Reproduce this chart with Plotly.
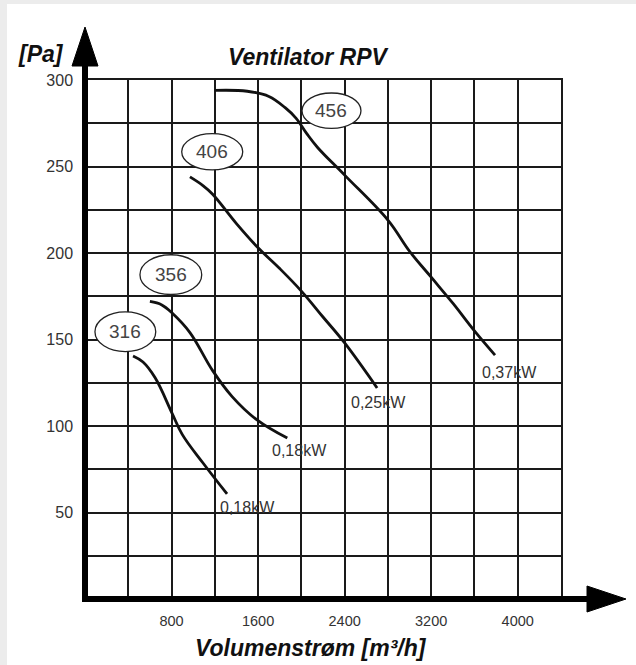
import plotly.graph_objects as go

# ---------------- data ----------------
x_tickvals = [0, 400, 800, 1200, 1600, 2000, 2400, 2800, 3200, 3600, 4000, 4400]
x_ticktext = ["", "", "800", "", "1600", "", "2400", "", "3200", "", "4000", ""]
y_tickvals = [0, 25, 50, 75, 100, 125, 150, 175, 200, 225, 250, 275, 300]
y_ticktext = ["", "", "50", "", "100", "", "150", "", "200", "", "250", "", "300"]

fan_models = ["316", "356", "406", "456"]
power_labels = ["0,18kW", "0,18kW", "0,25kW", "0,37kW"]

flow_316 = [444, 536, 647, 804, 900, 1091, 1313]
pressure_316 = [140.5, 137, 128, 107.5, 95, 78.6, 60.7]

flow_356 = [600, 710, 810, 970, 1180, 1360, 1590, 1870]
pressure_356 = [172, 170, 165, 154, 132, 117, 103.5, 93]

flow_406 = [970, 1090, 1180, 1400, 1600, 1800, 2000, 2200, 2400, 2700]
pressure_406 = [244, 239, 234, 217, 203, 191, 178, 163, 148, 122]

flow_456 = [1200, 1500, 1700, 1850, 1950, 2050, 2150, 2400, 2800, 3000, 3200, 3400, 3600, 3790]
pressure_456 = [294, 293.5, 290.5, 284, 278, 269, 261, 245, 219, 201, 186, 171, 155, 141]

curves = [(flow_316, pressure_316), (flow_356, pressure_356),
          (flow_406, pressure_406), (flow_456, pressure_456)]

# ---------------- layout helpers (positions / styles) ----------------
# ellipse label boxes in data units: (x0, x1, y0, y1)
ellipse_boxes = [(92, 654, 143, 166), (508, 1079, 176, 199),
                 (894, 1458, 248, 269), (2006, 2551, 272, 292.5)]
# pixel offsets of the power labels from each curve end
power_shift = [(-9, -14), (-17, -12), (-28, -15), (-15, -17)]

FONT = "Liberation Sans, Arial, sans-serif"
W, H = 636, 665
L, R, T, B = 85, 75, 80, 66
PW, PH = W - L - R, H - T - B


def px_x(p):
    return (p - L) / PW


def px_y(p):
    return (H - B - p) / PH


fig = go.Figure()

for (fx, fy) in curves:
    fig.add_trace(go.Scatter(
        x=fx, y=fy, mode="lines",
        line=dict(color="#111111", width=2.8, shape="spline", smoothing=1.1),
        showlegend=False, hoverinfo="skip"))

shapes = []
annotations = []

# gray frame + white page
shapes.append(dict(type="rect", xref="paper", yref="paper", layer="below",
                   x0=px_x(7), x1=px_x(640), y0=px_y(670), y1=px_y(4),
                   fillcolor="white", line=dict(width=0)))

# thick axes with arrows
shapes.append(dict(type="line", xref="paper", yref="paper",
                   x0=px_x(85), x1=px_x(85), y0=px_y(602), y1=px_y(62),
                   line=dict(color="black", width=6)))
shapes.append(dict(type="path", xref="paper", yref="paper",
                   path=f"M {px_x(72)},{px_y(66)} L {px_x(85)},{px_y(27)} L {px_x(98)},{px_y(66)} Z",
                   fillcolor="black", line=dict(color="black", width=1)))
shapes.append(dict(type="line", xref="paper", yref="paper",
                   x0=px_x(82), x1=px_x(590), y0=px_y(599), y1=px_y(599),
                   line=dict(color="black", width=6)))
shapes.append(dict(type="path", xref="paper", yref="paper",
                   path=f"M {px_x(587)},{px_y(586)} L {px_x(626)},{px_y(599)} L {px_x(587)},{px_y(612)} Z",
                   fillcolor="black", line=dict(color="black", width=1)))

for model, (x0, x1, y0, y1) in zip(fan_models, ellipse_boxes):
    shapes.append(dict(type="circle", xref="x", yref="y", layer="above",
                       x0=x0, x1=x1, y0=y0, y1=y1,
                       fillcolor="white", line=dict(color="#222222", width=1.3)))
    annotations.append(dict(x=(x0 + x1) / 2, y=(y0 + y1) / 2, xref="x", yref="y",
                            text=model, showarrow=False,
                            font=dict(family=FONT, size=19, color="#444444")))

for (fx, fy), lab, (dx, dy) in zip(curves, power_labels, power_shift):
    annotations.append(dict(x=fx[-1], y=fy[-1], xref="x", yref="y",
                            text=lab, showarrow=False, xanchor="left", yanchor="middle",
                            xshift=dx, yshift=dy,
                            font=dict(family=FONT, size=16, color="#333333")))

annotations.append(dict(x=px_x(308), y=px_y(57), xref="paper", yref="paper",
                        text="Ventilator RPV", showarrow=False,
                        xanchor="center", yanchor="middle",
                        font=dict(family=FONT, size=23, color="#111111",
                                  weight="bold", style="italic")))
annotations.append(dict(x=px_x(41), y=px_y(54), xref="paper", yref="paper",
                        text="[Pa]", showarrow=False,
                        xanchor="center", yanchor="middle",
                        font=dict(family=FONT, size=23, color="#111111",
                                  weight="bold", style="italic")))
annotations.append(dict(x=px_x(311), y=px_y(648), xref="paper", yref="paper",
                        text="Volumenstrøm [m³/h]", showarrow=False,
                        xanchor="center", yanchor="middle",
                        font=dict(family=FONT, size=23, color="#111111",
                                  weight="bold", style="italic")))

fig.update_layout(
    width=W, height=H,
    margin=dict(l=L, r=R, t=T, b=B),
    paper_bgcolor="#ececec",
    plot_bgcolor="white",
    shapes=shapes,
    annotations=annotations,
    showlegend=False,
    xaxis=dict(range=[0, 4400], tickmode="array", tickvals=x_tickvals, ticktext=x_ticktext,
               showgrid=True, gridcolor="#1a1a1a", gridwidth=1.5,
               showline=True, mirror=True, linecolor="#1a1a1a", linewidth=1.5,
               zeroline=False, ticks="", ticklabelstandoff=8,
               tickfont=dict(family=FONT, size=14.5, color="#333333"), fixedrange=True),
    yaxis=dict(range=[0, 300], tickmode="array", tickvals=y_tickvals, ticktext=y_ticktext,
               showgrid=True, gridcolor="#1a1a1a", gridwidth=1.5,
               showline=True, mirror=True, linecolor="#1a1a1a", linewidth=1.5,
               zeroline=False, ticks="", ticklabelstandoff=7,
               tickfont=dict(family=FONT, size=16, color="#333333"), fixedrange=True),
)

fig.write_html("out.html", config={"displayModeBar": False},
               post_script="document.body.style.margin='0';document.body.style.overflow='hidden';")
